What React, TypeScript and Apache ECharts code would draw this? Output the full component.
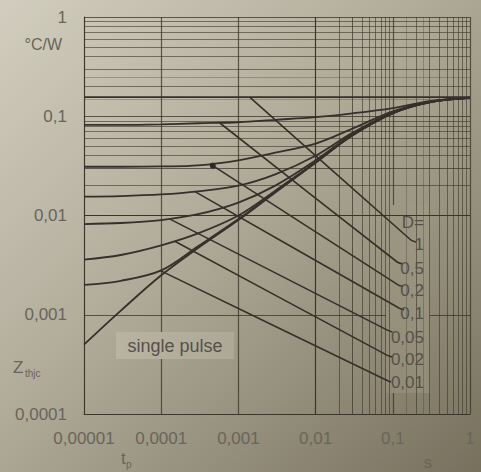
import React, { useEffect, useRef } from "react";
import * as echarts from "echarts";

// ---- data ----
const xTickLabels = ["0,00001", "0,0001", "0,001", "0,01", "0,1", "1"];
const yTickLabels = ["0,0001", "0,001", "0,01", "0,1", "1"];

const tValues = [1e-5, 3e-5, 1e-4, 3e-4, 1e-3, 3e-3, 1e-2, 3e-2, 0.1, 0.3, 1];
const zSinglePulse = [5.0e-4, 1.1e-3, 2.5e-3, 4.7e-3, 9.0e-3, 0.017, 0.034, 0.064, 0.107, 0.138, 0.153];
const zD001 = [2.0e-3, 2.2e-3, 2.8e-3, 4.9e-3, 9.2e-3, 0.0172, 0.0342, 0.0642, 0.1072, 0.138, 0.153];
const zD002 = [3.6e-3, 4.0e-3, 5.0e-3, 6.6e-3, 1.0e-2, 0.0178, 0.0346, 0.0645, 0.1075, 0.1385, 0.153];
const zD005 = [8.2e-3, 8.4e-3, 9.0e-3, 1.03e-2, 1.35e-2, 0.02, 0.036, 0.066, 0.108, 0.139, 0.153];
const zD01 = [0.0155, 0.0157, 0.0163, 0.0175, 0.02, 0.026, 0.04, 0.068, 0.109, 0.139, 0.1535];
const zD02 = [0.031, 0.031, 0.0312, 0.032, 0.036, 0.043, 0.053, 0.075, 0.112, 0.14, 0.154];
const zD05 = [0.082, 0.082, 0.083, 0.085, 0.087, 0.092, 0.098, 0.107, 0.121, 0.142, 0.154];
const zD1 = [0.156, 0.156, 0.156, 0.156, 0.156, 0.156, 0.156, 0.156, 0.156, 0.156, 0.156];

const dutyLabels = ["1", "0,5", "0,2", "0,1", "0,05", "0,02", "0,01"];
// leader lines: start on curve [t, Z], end at label [t, Z], small hook [t, Z]
const leaderStarts = [
  [1.4e-3, 0.156],
  [5.7e-4, 0.086],
  [4.65e-4, 0.0318],
  [2.7e-4, 0.0175],
  [1.3e-4, 0.0092],
  [1.5e-4, 5.5e-3],
  [9.6e-5, 2.8e-3],
];
const leaderEnds = [
  [0.17, 5.7e-3],
  [0.114, 3.4e-3],
  [0.117, 2.0e-3],
  [0.12, 1.17e-3],
  [0.085, 7.0e-4],
  [0.085, 3.9e-4],
  [0.082, 2.2e-4],
];
const leaderHooks = [
  [0.2, 5.4e-3],
  [0.133, 3.25e-3],
  [0.136, 1.91e-3],
  [0.14, 1.12e-3],
  [0.099, 6.7e-4],
  [0.099, 3.75e-4],
  [0.095, 2.1e-4],
];

const W = 481;
const H = 472;
const GRID = { left: 84, top: 17, right: 11, bottom: 58 };

export default function App() {
  const ref = useRef<HTMLDivElement>(null);

  useEffect(() => {
    if (!ref.current) return;
    const chart = echarts.init(ref.current, undefined, { renderer: "svg" });

    const minorX: any[] = [];
    for (let e = -5; e < 0; e++) {
      for (let k = 2; k <= 9; k++) minorX.push({ xAxis: k * Math.pow(10, e) });
    }
    const minorY: any[] = [];
    for (let e = -4; e < 0; e++) {
      for (let k = 2; k <= 9; k++) minorY.push({ yAxis: k * Math.pow(10, e) });
    }
    const fineX: any[] = [];
    for (let e = -5; e < 0; e++) {
      for (const k of [1.5, 2.5]) fineX.push({ xAxis: k * Math.pow(10, e) });
    }
    const fineY: any[] = [];
    for (let e = -4; e < 0; e++) {
      for (const k of [1.5, 2.5]) fineY.push({ yAxis: k * Math.pow(10, e) });
    }

    const lineColor = "#34302a";
    const mk = (arr: number[]) => tValues.map((t, i) => [t, arr[i]]);
    const curves = [zSinglePulse, zD001, zD002, zD005, zD01, zD02, zD05, zD1];

    const gridLineSeries = (data: any[], color: string) => ({
      type: "line",
      data: [[1e-5, 1e-4]],
      symbol: "none",
      silent: true,
      z: 0,
      lineStyle: { opacity: 0 },
      markLine: {
        silent: true,
        symbol: "none",
        label: { show: false },
        animation: false,
        lineStyle: { color, width: 1, type: "solid" },
        data,
      },
    });

    const series: any[] = [
      gridLineSeries([...minorX, ...minorY], "rgba(58,53,40,0.6)"),
      gridLineSeries([...fineX, ...fineY], "rgba(58,53,40,0.3)"),
      ...curves.map((c) => ({
        type: "line",
        data: mk(c),
        smooth: 0.35,
        symbol: "none",
        z: 5,
        lineStyle: { color: lineColor, width: 1.8 },
      })),
      ...leaderStarts.map((s, i) => ({
        type: "line",
        data: [
          i === 2 ? { value: s, symbol: "circle", symbolSize: 6 } : { value: s, symbol: "none" },
          { value: leaderEnds[i], symbol: "none" },
          { value: leaderHooks[i], symbol: "none" },
        ],
        smooth: 0.15,
        showSymbol: true,
        z: 5,
        itemStyle: { color: "#2e2a22" },
        lineStyle: { color: lineColor, width: 1.6 },
      })),
    ];

    const tickColor = "#69655a";
    const annColor = "#55514a";
    const font = "'Liberation Sans', Arial, sans-serif";

    chart.setOption({
      animation: false,
      backgroundColor: {
        type: "linear",
        x: 0,
        y: 0,
        x2: 1,
        y2: 1,
        colorStops: [
          { offset: 0, color: "#d2cebf" },
          { offset: 0.45, color: "#b0ab99" },
          { offset: 1, color: "#77705d" },
        ],
      },
      grid: { ...GRID, containLabel: false },
      xAxis: {
        type: "log",
        logBase: 10,
        min: 1e-5,
        max: 1,
        z: 0,
        axisLine: { show: true, lineStyle: { color: "rgba(55,50,38,0.8)", width: 1 } },
        axisTick: { show: false },
        splitLine: { show: true, lineStyle: { color: "rgba(55,50,38,0.75)", width: 1.2 } },
        axisLabel: {
          margin: 16,
          fontSize: 17,
          fontFamily: font,
          color: tickColor,
          formatter: (v: number) => xTickLabels[Math.round(Math.log10(v)) + 5] ?? "",
        },
      },
      yAxis: {
        type: "log",
        logBase: 10,
        min: 1e-4,
        max: 1,
        z: 0,
        axisLine: { show: true, lineStyle: { color: "rgba(55,50,38,0.8)", width: 1 } },
        axisTick: { show: false },
        splitLine: { show: true, lineStyle: { color: "rgba(55,50,38,0.75)", width: 1.2 } },
        axisLabel: {
          margin: 17,
          fontSize: 17,
          fontFamily: font,
          color: tickColor,
          formatter: (v: number) => yTickLabels[Math.round(Math.log10(v)) + 4] ?? "",
        },
      },
      series,
      graphic: {
        elements: [
          {
            type: "rect",
            z: 3,
            silent: true,
            shape: { x: 116, y: 332, width: 118, height: 27 },
            style: {
              fill: new echarts.graphic.LinearGradient(0, 0, 1, 0, [
                { offset: 0, color: "#b8b3a2" },
                { offset: 1, color: "#aea997" },
              ]),
            },
          },
          {
            type: "rect",
            z: 3,
            silent: true,
            shape: { x: 386, y: 205, width: 44, height: 188 },
            style: {
              fill: new echarts.graphic.LinearGradient(0, 0, 0, 1, [
                { offset: 0, color: "#9d9784" },
                { offset: 1, color: "#928b78" },
              ]),
            },
          },
          { type: "text", z: 6, x: 175, y: 346, style: { text: "single pulse", fontSize: 18, fontFamily: font, fill: annColor, align: "center", verticalAlign: "middle" } },
          { type: "text", z: 6, x: 424, y: 222, style: { text: "D=", fontSize: 17, fontFamily: font, fill: annColor, align: "right", verticalAlign: "middle" } },
          ...dutyLabels.map((l, i) => ({
            type: "text",
            z: 6,
            x: 424,
            y: [244, 268, 290, 313, 337, 359, 382][i],
            style: { text: l, fontSize: 17, fontFamily: font, fill: annColor, align: "right", verticalAlign: "middle" },
          })),
          { type: "text", z: 6, x: 62, y: 44, style: { text: "°C/W", fontSize: 16, fontFamily: font, fill: tickColor, align: "right", verticalAlign: "middle" } },
          { type: "text", z: 6, x: 13, y: 367, style: { text: "Z", fontSize: 17, fontFamily: font, fill: tickColor, verticalAlign: "middle" } },
          { type: "text", z: 6, x: 25, y: 373, style: { text: "thjc", fontSize: 10, fontFamily: font, fill: tickColor, verticalAlign: "middle" } },
          { type: "text", z: 6, x: 121, y: 458, style: { text: "t", fontSize: 17, fontFamily: font, fill: tickColor, verticalAlign: "middle" } },
          { type: "text", z: 6, x: 126, y: 464, style: { text: "p", fontSize: 10, fontFamily: font, fill: tickColor, verticalAlign: "middle" } },
          { type: "text", z: 6, x: 428, y: 462, style: { text: "s", fontSize: 17, fontFamily: font, fill: tickColor, align: "center", verticalAlign: "middle" } },
        ],
      },
    });

    return () => chart.dispose();
  }, []);

  return (
    <div style={{ position: "fixed", left: 0, top: 0, width: W, height: H, background: "#b3ae9c" }}>
      <div ref={ref} style={{ width: W, height: H }} />
    </div>
  );
}
